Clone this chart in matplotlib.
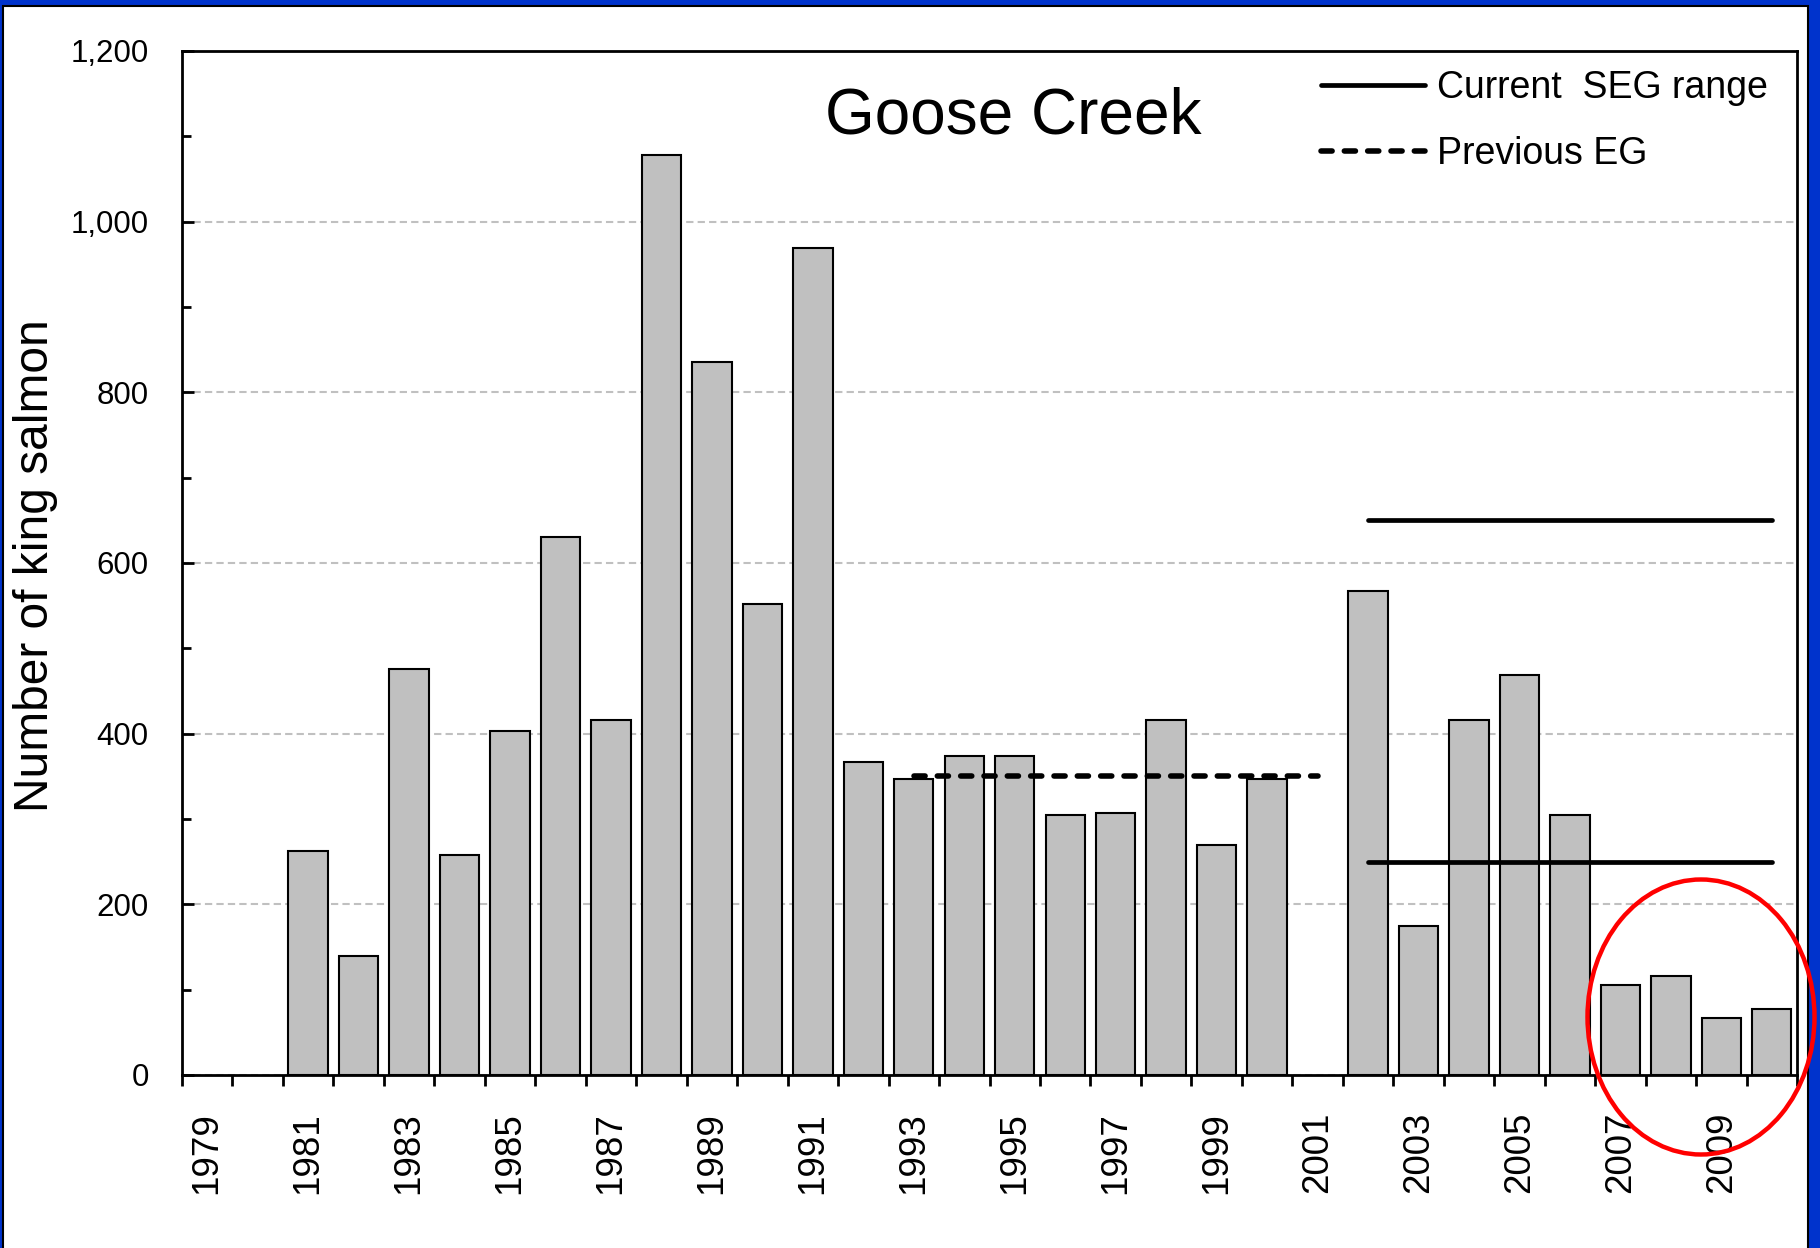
import matplotlib.pyplot as plt
import matplotlib.patches as patches
import numpy as np

# ---- Data ----
years = [1981, 1982, 1983, 1984, 1985, 1986, 1987, 1988, 1989, 1990,
         1991, 1992, 1993, 1994, 1995, 1996, 1997, 1998, 1999, 2000,
         2002, 2003, 2004, 2005, 2006, 2007, 2008, 2009, 2010]
counts = [263, 140, 476, 258, 403, 630, 416, 1078, 835, 552,
          969, 367, 347, 374, 374, 305, 307, 416, 269, 347,
          567, 175, 416, 469, 305, 105, 116, 67, 77]

seg_years = [2002, 2010]
seg_low = [250, 250]
seg_high = [650, 650]

eg_years = [1993, 2001]
eg_level = [350, 350]

label_years = list(range(1979, 2010, 2))
y_ticks = [0, 200, 400, 600, 800, 1000, 1200]
y_tick_labels = ["0", "200", "400", "600", "800", "1,000", "1,200"]

plt.rcParams["font.family"] = ["Liberation Sans", "DejaVu Sans"]

W, H = 1820, 1248
fig = plt.figure(figsize=(W / 100, H / 100), dpi=100, facecolor="#0033CC")

# white slide area inside the blue frame
fig.add_artist(patches.Rectangle((3 / W, -0.01), (1808 - 3) / W, (H - 6) / H + 0.01,
                                 transform=fig.transFigure, facecolor="white",
                                 edgecolor="black", linewidth=1.5, zorder=-1))

ax = fig.add_axes([182 / W, (H - 1075) / H, 1615 / W, 1024 / H])
ax.set_facecolor("white")

ax.bar(years, counts, width=0.78, color="#C0C0C0", edgecolor="black",
       linewidth=1.5, zorder=2)

seg_line, = ax.plot(seg_years, seg_high, color="black", lw=3.4,
                    solid_capstyle="round", zorder=3, label="Current  SEG range")
ax.plot(seg_years, seg_low, color="black", lw=3.4, solid_capstyle="round", zorder=3)
eg_line, = ax.plot(eg_years, eg_level, color="black", lw=4, dashes=(2.0, 2.2),
                   dash_capstyle="round", zorder=3, label="Previous EG")

ax.set_xlim(1978.5, 2010.5)
ax.set_ylim(0, 1200)

# x axis: ticks on category boundaries, labels on every other year
ax.set_xticks(np.arange(1978.5, 2011, 1.0))
ax.set_xticklabels([])
ax.set_xticks(label_years, minor=True)
ax.set_xticklabels([str(y) for y in label_years], minor=True, rotation=90,
                   fontsize=26.5)
ax.tick_params(axis="x", which="major", direction="out", length=8, width=2)
ax.tick_params(axis="x", which="minor", length=0, pad=26.5)

ax.set_yticks(y_ticks)
ax.set_yticklabels(y_tick_labels, fontsize=22.5)
ax.set_yticks(np.arange(100, 1200, 200), minor=True)
ax.tick_params(axis="y", which="major", direction="in", length=8.6, width=2, pad=24)
ax.tick_params(axis="y", which="minor", direction="in", length=6.5, width=2)

ax.yaxis.grid(True, color="#C0C0C0", lw=1.5, linestyle=(0, (3.5, 2)))
ax.set_axisbelow(True)
for s in ax.spines.values():
    s.set_linewidth(2)

ax.legend(handles=[seg_line, eg_line], loc="upper left",
          bbox_to_anchor=((1321 - 182) / 1615, (1075 - 70) / 1024),
          frameon=False, fontsize=27, handlelength=2.77, handletextpad=0.32,
          borderpad=0, borderaxespad=0, labelspacing=0.8)

fig.text(1013 / W, 1 - 134 / H, "Goose Creek", fontsize=46, ha="center",
         va="baseline")
fig.text(36 / W, 1 - 566 / H, "Number of king salmon", fontsize=34.5,
         rotation=90, ha="center", va="center")

fig.add_artist(patches.Ellipse((1701 / W, 1 - 1017 / H), 227 / W, 275 / H,
                               transform=fig.transFigure, fill=False,
                               edgecolor="#FF0000", linewidth=3.2, zorder=5))

fig.savefig("out.png", dpi=100, facecolor=fig.get_facecolor())
